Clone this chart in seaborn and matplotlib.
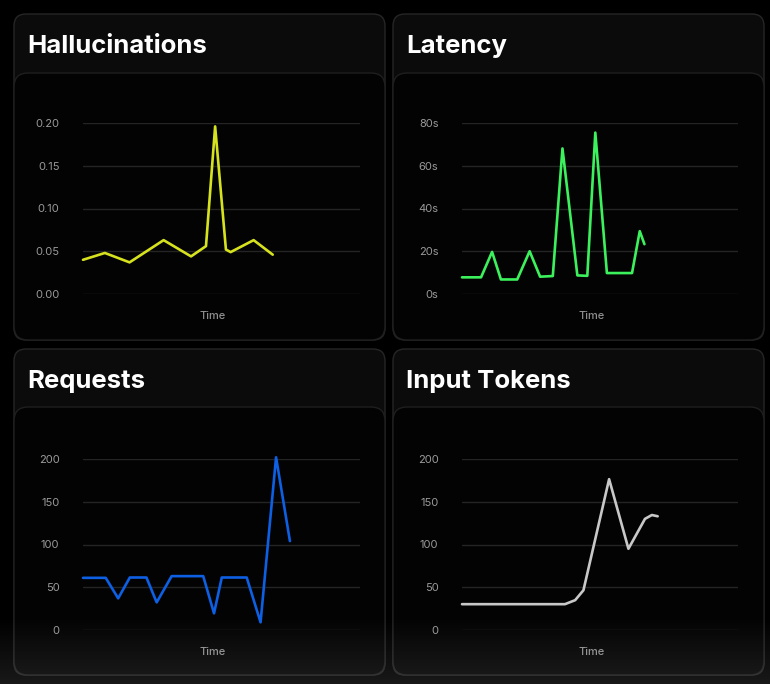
import numpy as np
import pandas as pd
import matplotlib
matplotlib.use("Agg")
import matplotlib.pyplot as plt
from matplotlib.patches import FancyBboxPatch
import seaborn as sns

# ---------------- data ----------------
halluc_t = [0, 7.9, 16.8, 29.1, 39.0, 44.4, 47.7, 51.6, 53.3, 61.6, 68.5]
halluc_v = [0.040, 0.048, 0.037, 0.063, 0.044, 0.056, 0.196, 0.052, 0.049, 0.063, 0.046]
halluc_ticks = [0.0, 0.05, 0.10, 0.15, 0.20]
halluc_labels = ["0.00", "0.05", "0.10", "0.15", "0.20"]

latency_t = [0, 6.9, 10.9, 14.1, 20.0, 24.5, 28.3, 32.9, 36.4, 41.8, 45.4, 48.3, 52.5, 61.6, 64.4, 66.1]
latency_v = [7.8, 7.8, 19.7, 6.8, 6.8, 20.0, 8.1, 8.4, 68.1, 8.7, 8.5, 75.5, 9.8, 9.8, 29.4, 23.3]
latency_ticks = [0, 20, 40, 60, 80]
latency_labels = ["0s", "20s", "40s", "60s", "80s"]

requests_t = [0, 8.2, 12.7, 16.9, 22.9, 26.6, 32.0, 43.4, 47.3, 50.1, 59.1, 64.1, 69.7, 74.7]
requests_v = [61, 61, 37, 61.4, 61.4, 32.3, 63, 63, 19.5, 61.4, 61.4, 9, 202, 104]
requests_ticks = [0, 50, 100, 150, 200]
requests_labels = ["0", "50", "100", "150", "200"]

tokens_t = [0, 37.3, 41.0, 44.0, 53.3, 60.3, 66.3, 68.8, 70.9]
tokens_v = [30.2, 30.2, 34.9, 46.5, 176.4, 95, 130, 134.5, 133]
tokens_ticks = [0, 50, 100, 150, 200]
tokens_labels = ["0", "50", "100", "150", "200"]

titles = ["Hallucinations", "Latency", "Requests", "Input Tokens"]
colors = ["#d6e21e", "#3cf25c", "#0d5fe3", "#c8c8c8"]

# ---------------- figure ----------------
W, H = 770, 684
sns.set_theme(style="dark")
plt.rcParams["font.family"] = ["Inter", "DejaVu Sans"]
fig = plt.figure(figsize=(W / 100, H / 100), dpi=100, facecolor="#000000")


def fx(px):
    return px / W


def fy(py):
    return 1 - py / H


def rbox(x0, y0, x1, y1, fc, ec, r=0.12, z=-10):
    p = FancyBboxPatch((x0 / 100, (H - y1) / 100), (x1 - x0) / 100, (y1 - y0) / 100,
                       boxstyle=f"round,pad=0,rounding_size={r}",
                       transform=fig.dpi_scale_trans, fc=fc, ec=ec, lw=1.0, zorder=z)
    fig.add_artist(p)


cards = [
    # card x0, x1, card top, panel top, bottom, axes x0, x1, axes y top, y bottom
    (14, 385, 14, 73, 340, 83, 360, 123, 294),
    (393, 764, 14, 73, 340, 462, 738, 123, 294),
    (14, 385, 349, 407, 675, 83, 360, 459, 630),
    (393, 764, 349, 407, 675, 462, 738, 459, 630),
]
series = [
    (halluc_t, halluc_v, halluc_ticks, halluc_labels),
    (latency_t, latency_v, latency_ticks, latency_labels),
    (requests_t, requests_v, requests_ticks, requests_labels),
    (tokens_t, tokens_v, tokens_ticks, tokens_labels),
]

for (cx0, cx1, ct, pt, cb, ax0, ax1, ayt, ayb), (t, v, ticks, labels), title, col in zip(
        cards, series, titles, colors):
    rbox(cx0, ct, cx1, cb, "#0b0b0b", "#262626", r=0.12, z=-10)
    rbox(cx0, pt, cx1, cb, "#030303", "#1f1f1f", r=0.14, z=-9)
    fig.text(fx(cx0 + 13), fy(ct + 39), title, color="white", fontsize=18.5,
             fontweight="bold", ha="left", va="baseline")

    ax = fig.add_axes([fx(ax0), fy(ayb), (ax1 - ax0) / W, (ayb - ayt) / H])
    ax.set_facecolor("none")
    ax.set_zorder(1)
    df = pd.DataFrame({"Time": t, "value": v})
    sns.lineplot(data=df, x="Time", y="value", ax=ax, color=col, linewidth=1.9,
                 sort=False, estimator=None)
    for ln in ax.lines:
        ln.set_clip_on(False)
        ln.set_solid_joinstyle("round")
        ln.set_solid_capstyle("round")
    ax.set_xlim(0, 100)
    ax.set_ylim(ticks[0], ticks[-1])
    ax.set_yticks(ticks)
    ax.set_yticklabels(labels)
    ax.set_xticks([])
    ax.grid(axis="y", color="#242424", linewidth=1.0)
    ax.grid(axis="x", visible=False)
    for s in ax.spines.values():
        s.set_visible(False)
    ax.tick_params(axis="y", length=0, pad=17, labelsize=8, labelcolor="#9a9a9a")
    ax.set_ylabel("")
    ax.set_xlabel("Time", color="#8f8f8f", fontsize=8, fontweight="medium")
    ax.xaxis.set_label_coords((213 - 83) / 277 if ax0 == 83 else (592 - 462) / 276,
                              -(22) / (ayb - ayt), transform=ax.transAxes)
    ax.xaxis.label.set_va("center")

# bottom gradient glow
gax = fig.add_axes([0, 0, 1, 70 / H])
grad = np.zeros((64, 2, 4))
grad[..., :3] = 1.0
grad[..., 3] = np.linspace(0.10, 0.0, 64)[:, None]
gax.imshow(grad, aspect="auto", extent=(0, 1, 0, 1), origin="lower")
gax.set_axis_off()
gax.set_zorder(10)

fig.savefig("out.png", dpi=100, facecolor=fig.get_facecolor())
